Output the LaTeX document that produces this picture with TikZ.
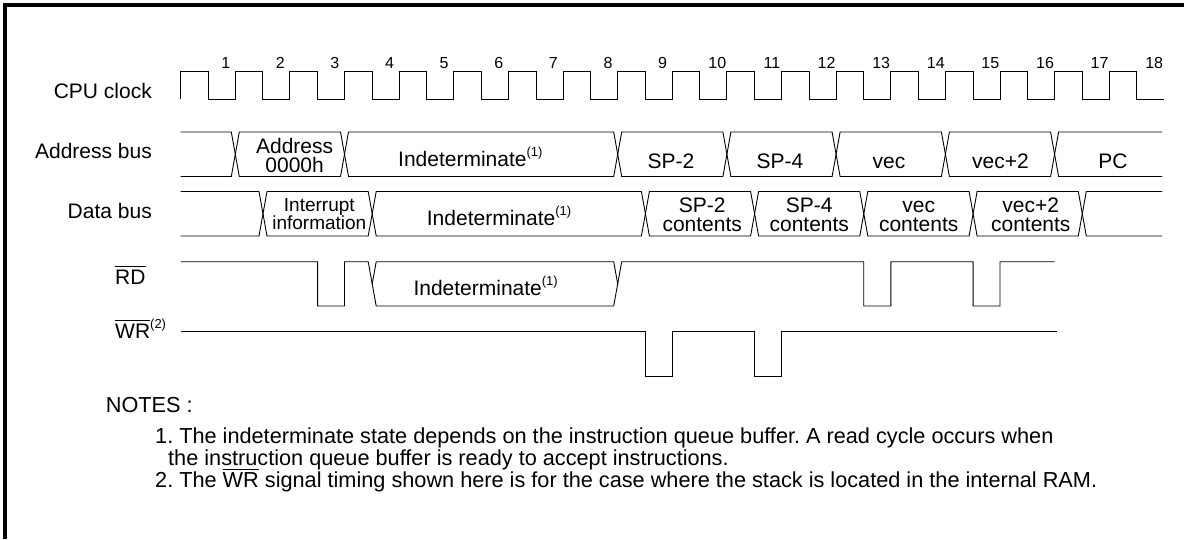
\documentclass[tikz,border=0pt]{standalone}
\usepackage{fontspec}
\setmainfont{Liberation Sans}
\frenchspacing
\newcommand\ovl[1]{\leavevmode\vbox{\hrule height 0.9pt\kern 2.2pt\hbox{#1}}}
\newcommand\sups[1]{\raisebox{0.45em}{\fontsize{13}{13}\selectfont #1}}
\newcommand\twoline[3]{\vtop{\baselineskip=#1pt\lineskiplimit=-40pt\halign{\hfil##\hfil\cr #2\cr #3\cr}}}
\begin{document}
\begin{tikzpicture}[x=1pt,y=-1pt,
  sig/.style={line width=0.9pt, line join=miter},
  frame/.style={line width=3.5pt},
  lab/.style={font=\fontsize{21}{21}\selectfont, inner sep=0pt},
  txt/.style={font=\fontsize{21}{21}\selectfont, inner sep=0pt, anchor=base},
  stxt/.style={font=\fontsize{19}{19}\selectfont, inner sep=0pt, anchor=base},
  num/.style={font=\fontsize{16}{16}\selectfont, inner sep=0pt},
  note/.style={font=\fontsize{21.7}{21.7}\selectfont, inner sep=0pt, anchor=base west}]
\useasboundingbox (0,0) rectangle (1184,539);
% frame
\draw[frame] (5,539) -- (5,5) -- (1184,5);
% signal labels
\node[lab, anchor=base east] (lclk) at (152,98) {CPU clock};
\node[lab, anchor=base east] (ladr) at (152,158.3) {Address bus};
\node[lab, anchor=base east] (ldat) at (152,218) {Data bus};
\node[lab, anchor=base west] (lrd) at (115,284) {\ovl{RD}};
\node[lab, anchor=base west] (lwr) at (115,338) {\ovl{WR}\sups{(2)}};
% clock
\draw[sig] (180.7,99) \foreach \k in {1,...,18}{ -- ++(0,-27.3) -- ++(27.6,0) -- ++(0,27.3) -- ++(27.02,0)};
\foreach \k in {1,...,18}{\node[num] (n\k) at ({180.7+(\k-1)*54.62+45},63) {\k};}
% address bus
\def\yt{132}\def\yb{176.5}\def\ym{154.25}
\draw[sig] (180.7,\yt) -- (231.3,\yt) -- (235.3,\ym) -- (231.3,\yb) -- (180.7,\yb);
\foreach \a/\b in {235.3/344.5,344.5/617.7,617.7/726.9,726.9/836.1,836.1/945.4,945.4/1054.6}{
  \draw[sig] (\a,\ym) -- (\a+4,\yt) -- (\b-4,\yt) -- (\b,\ym) -- (\b-4,\yb) -- (\a+4,\yb) -- cycle;}
\draw[sig] (1162,\yt) -- (1058.6,\yt) -- (1054.6,\ym) -- (1058.6,\yb) -- (1162,\yb);
% data bus
\def\yt{191.5}\def\yb{236}\def\ym{213.75}
\draw[sig] (180.7,\yt) -- (259,\yt) -- (263,\ym) -- (259,\yb) -- (180.7,\yb);
\foreach \a/\b in {263/372.2,372.2/645.4,645.4/754.6,754.6/863.8,863.8/973.1,973.1/1082.3}{
  \draw[sig] (\a,\ym) -- (\a+4,\yt) -- (\b-4,\yt) -- (\b,\ym) -- (\b-4,\yb) -- (\a+4,\yb) -- cycle;}
\draw[sig] (1162,\yt) -- (1086.3,\yt) -- (1082.3,\ym) -- (1086.3,\yb) -- (1162,\yb);
% RD
\draw[sig] (180.7,261.7) -- (317.6,261.7) -- (317.6,306) -- (344.5,306) -- (344.5,261.7) -- (368.2,261.7) -- (376.2,306) -- (613.7,306) -- (621.7,261.7) -- (863.7,261.7) -- (863.7,306) -- (890.8,306) -- (890.8,261.7) -- (973.1,261.7) -- (973.1,306) -- (1000,306) -- (1000,261.7) -- (1054.6,261.7);
\draw[sig] (372.2,283.85) -- (376.2,261.7) -- (613.7,261.7) -- (617.7,283.85);
% WR
\draw[sig] (180.7,331.7) -- (645.4,331.7) -- (645.4,376.7) -- (672.3,376.7) -- (672.3,331.7) -- (754.6,331.7) -- (754.6,376.7) -- (781.5,376.7) -- (781.5,331.7) -- (1057,331.7);
% texts in buses
\node[txt] (a1) at (294.6,153.5) {\twoline{19}{Address}{0000h}};
\node[txt, anchor=base west] (a2) at (398,166) {Indeterminate\sups{(1)}};
\node[txt] (a3) at (671,168.3) {SP-2};
\node[txt] (a4) at (780,168.3) {SP-4};
\node[txt] (a5) at (889,168.3) {vec};
\node[txt] (a6) at (1000.5,168.3) {vec+2};
\node[txt] (a7) at (1113,168.3) {PC};
\node[stxt] (d1) at (319.3,211.7) {\twoline{17.3}{Interrupt}{information}};
\node[txt, anchor=base west] (d2) at (426.7,225) {Indeterminate\sups{(1)}};
\node[txt] (d3) at (702.2,212.4) {\twoline{19}{SP-2}{contents}};
\node[txt] (d4) at (809.3,212.4) {\twoline{19}{SP-4}{contents}};
\node[txt] (d5) at (918.7,212.4) {\twoline{19}{vec}{contents}};
\node[txt] (d6) at (1030.8,212.4) {\twoline{19}{vec+2}{contents}};
\node[txt, anchor=base west] (r1) at (413.3,295) {Indeterminate\sups{(1)}};
% notes
\node[note] (nt0) at (105.7,412) {NOTES :};
\node[note] (nt1) at (155,443) {1. The indeterminate state depends on the instruction queue buffer. A read cycle occurs when};
\node[note] (nt2) at (168,465) {the instruction queue buffer is ready to accept instructions.};
\node[note] (nt3) at (155,487) {2. The \ovl{WR} signal timing shown here is for the case where the stack is located in the internal RAM.};
\end{tikzpicture}
\end{document}
